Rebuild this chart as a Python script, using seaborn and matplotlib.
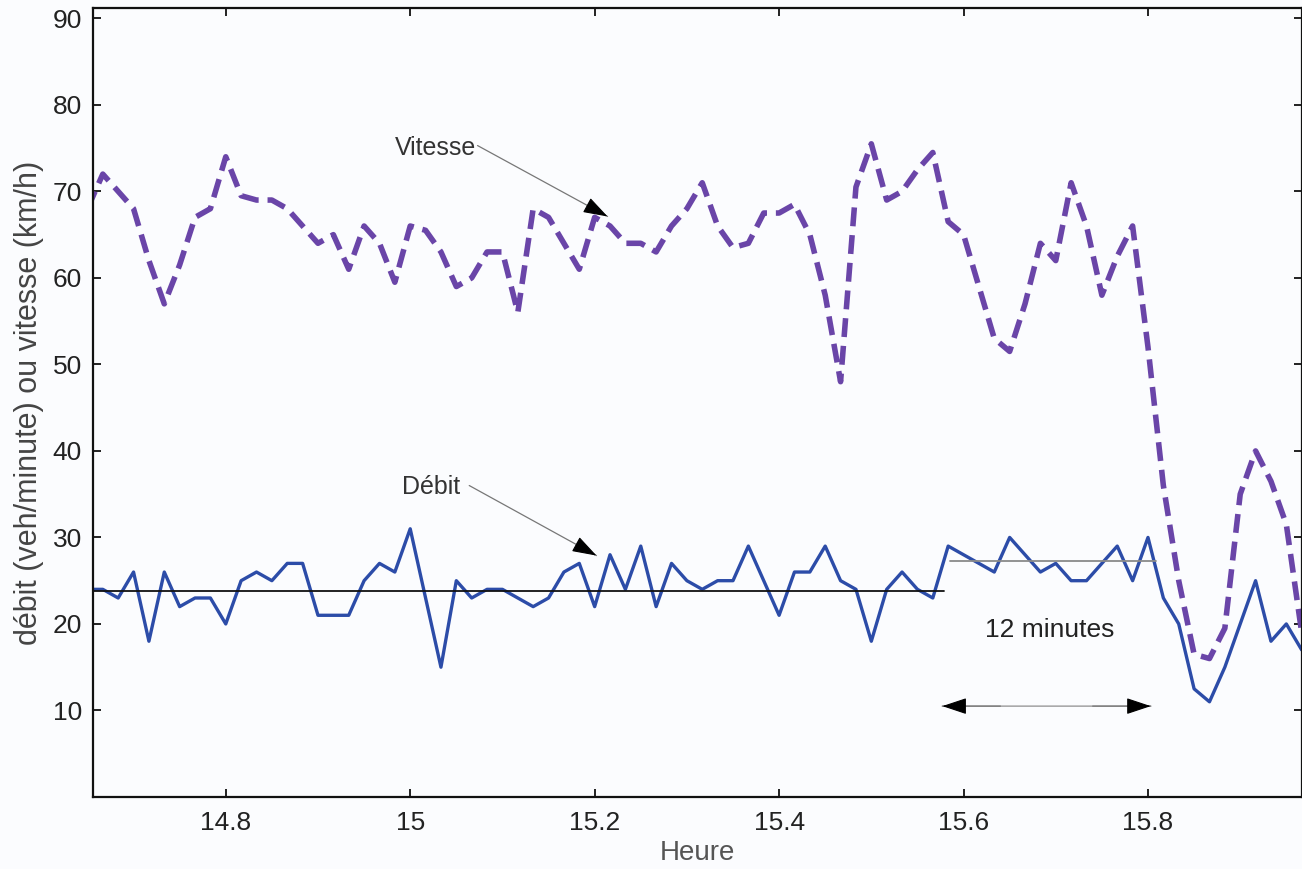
import numpy as np
import pandas as pd
import matplotlib
matplotlib.use("Agg")
import matplotlib.pyplot as plt
import seaborn as sns

# ---- data ----
minute_index = list(range(80))          # one sample per minute from 14.65 h
start_hour = 14.65
debit = [24, 24, 23, 26, 18, 26, 22, 23, 23, 20,
         25, 26, 25, 27, 27, 21, 21, 21, 25, 27,
         26, 31, 23, 15, 25, 23, 24, 24, 23, 22,
         23, 26, 27, 22, 28, 24, 29, 22, 27, 25,
         24, 25, 25, 29, 25, 21, 26, 26, 29, 25,
         24, 18, 24, 26, 24, 23, 29, 28, 27, 26,
         30, 28, 26, 27, 25, 25, 27, 29, 25, 30,
         23, 20, 12.5, 11, 15, 20, 25, 18, 20, 17]
vitesse = [68, 72, 70, 68, 62, 57, 61.5, 67, 68, 74,
           69.5, 69, 69, 68, 66, 64, 65, 61, 66, 64,
           59.5, 66, 65.5, 63, 59, 60, 63, 63, 56, 68,
           67, 64, 61, 67, 66, 64, 64, 63, 66, 68,
           71, 66, 63.5, 64, 67.5, 67.5, 68.5, 65, 58, 48,
           70.5, 75.5, 69, 70, 72.5, 74.5, 66.5, 65, 59, 53,
           51.5, 57, 64, 62, 71, 66, 58, 62.5, 66, 52,
           36, 25, 16.5, 16, 19.5, 35, 40, 36.5, 31.5, 19]
debit_mean_before = 23.8
debit_mean_after = 27.3
x_ticks = [14.8, 15.0, 15.2, 15.4, 15.6, 15.8]
x_tick_labels = ["14.8", "15", "15.2", "15.4", "15.6", "15.8"]
y_ticks = [10, 20, 30, 40, 50, 60, 70, 80, 90]
y_tick_labels = ["10", "20", "30", "40", "50", "60", "70", "80", "90"]

heure = [start_hour + m / 60.0 for m in minute_index]
df = pd.DataFrame({"Heure": heure, "debit": debit, "vitesse": vitesse})

sns.set_theme(style="ticks")
plt.rcParams["font.family"] = ["Liberation Sans", "DejaVu Sans"]

fig = plt.figure(figsize=(13.02, 8.69), dpi=100)
fig.patch.set_facecolor("#fbfcfe")
ax = fig.add_axes([0.0714, 0.0829, 0.9286, 0.9079])
ax.set_facecolor("#fbfcfe")

sns.lineplot(data=df, x="Heure", y="vitesse", ax=ax, color="#6a45a8",
             linewidth=4.0, linestyle=(0, (3.4, 1.6)), dash_capstyle="butt")
sns.lineplot(data=df, x="Heure", y="debit", ax=ax, color="#2c4ca8",
             linewidth=2.4)

xmin, xmax = 14.656, 15.967
ax.set_xlim(xmin, xmax)
ax.set_ylim(0, 91.2)

# mean flow lines
ax.plot([xmin, 15.579], [debit_mean_before, debit_mean_before], color="#111111", lw=1.3)
ax.plot([15.585, 15.809], [debit_mean_after, debit_mean_after], color="#8a8a8a", lw=1.3)


def arrow(x0, y0, x1, y1):
    # thin grey shaft + black arrow head at (x1, y1)
    ax.annotate("", xy=(x1, y1), xytext=(x0, y0),
                arrowprops=dict(arrowstyle="-", color="#777777", lw=0.9,
                                shrinkA=0, shrinkB=0))
    fx = x0 + (x1 - x0) * 0.85
    fy = y0 + (y1 - y0) * 0.85
    ax.annotate("", xy=(x1, y1), xytext=(fx, fy),
                arrowprops=dict(arrowstyle="-|>,head_length=0.9,head_width=0.3",
                                color="black", lw=0.8, mutation_scale=17,
                                shrinkA=0, shrinkB=0))


arrow(15.073, 75.3, 15.214, 67.1)
ax.text(15.027, 75.0, "Vitesse", ha="center", va="center", fontsize=18, color="#333333")
arrow(15.064, 36.0, 15.202, 27.9)
ax.text(15.023, 35.8, "Débit", ha="center", va="center", fontsize=18, color="#333333")
# double arrow "12 minutes"
ax.annotate("", xy=(15.803, 10.5), xytext=(15.577, 10.5),
            arrowprops=dict(arrowstyle="-", color="#999999", lw=1.0,
                            shrinkA=0, shrinkB=0))
arrow(15.64, 10.5, 15.577, 10.5)
arrow(15.74, 10.5, 15.803, 10.5)
ax.text(15.693, 19.3, "12 minutes", ha="center", va="center", fontsize=19, color="#222222")

ax.set_xticks(x_ticks)
ax.set_xticklabels(x_tick_labels)
ax.set_yticks(y_ticks)
ax.set_yticklabels(y_tick_labels)
ax.tick_params(direction="in", top=True, right=True, length=6, width=1.4,
               labelsize=19, colors="#222222")
ax.tick_params(axis="x", pad=10)
ax.tick_params(axis="y", pad=8)
for s in ax.spines.values():
    s.set_visible(True)
    s.set_linewidth(1.6)
    s.set_color("#111111")

ax.set_xlabel("Heure", fontsize=20, color="#555555", labelpad=4)
ax.set_ylabel("débit (veh/minute) ou vitesse (km/h)", fontsize=22, color="#444444", labelpad=6)

fig.savefig("out.png", dpi=100, facecolor=fig.get_facecolor())
